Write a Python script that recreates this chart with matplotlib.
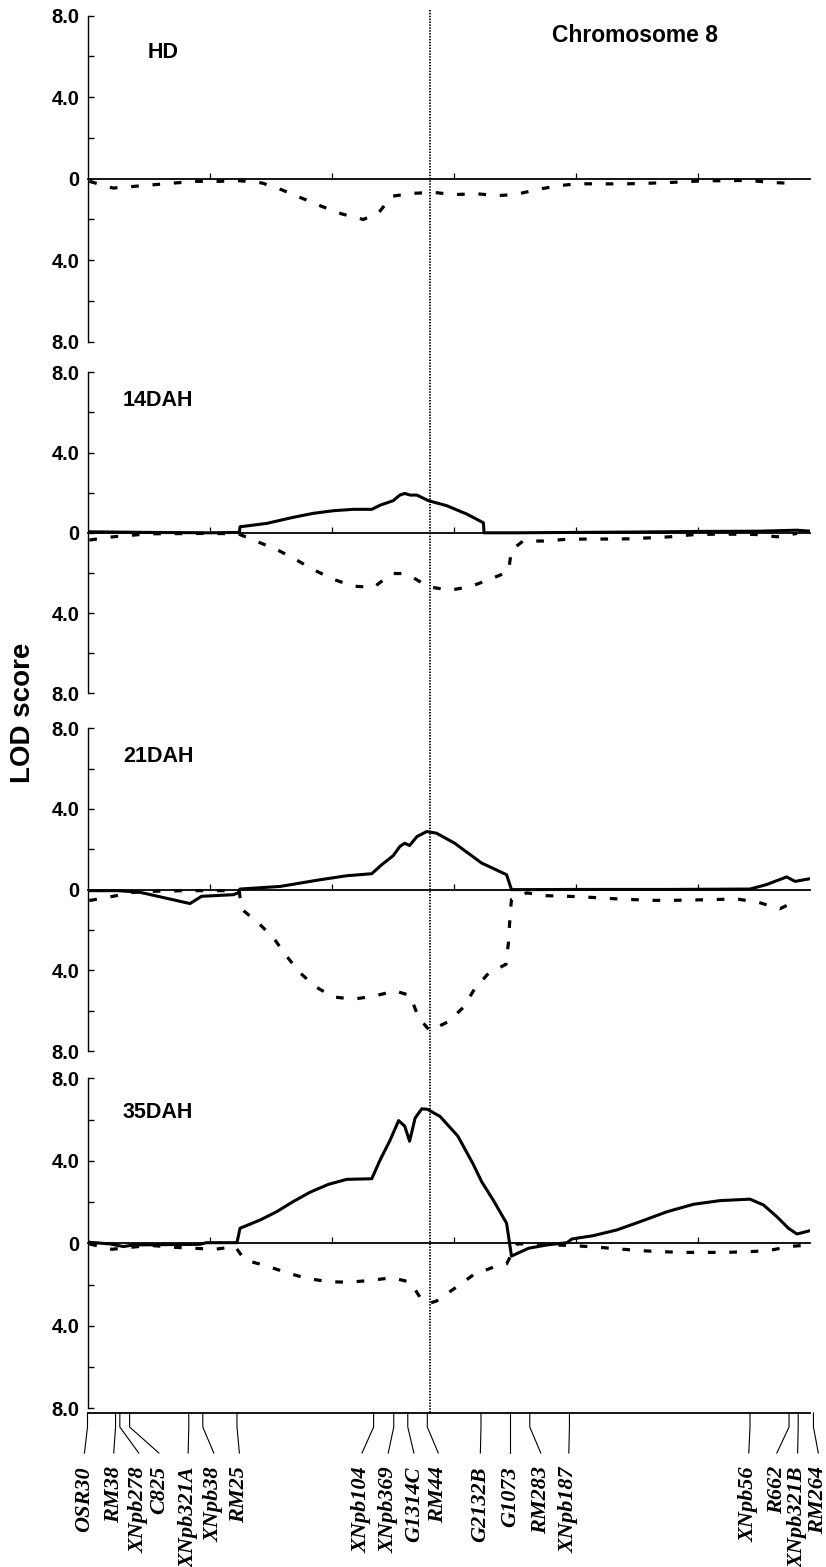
import matplotlib
matplotlib.use("Agg")
import matplotlib.pyplot as plt
from matplotlib import transforms
from matplotlib.lines import Line2D

# ---------------- data (cM, LOD; dashed trait plotted downward) ----------------
panel_names = ["HD", "14DAH", "21DAH", "35DAH"]

hd_dash_x = [0.3, 4.2, 7.5, 11.1, 14.3, 17.9, 21.4, 25.0, 28.6, 31.8, 35.1, 38.4, 41.7,
             45.2, 47.7, 49.9, 53.3, 56.7, 60.0, 63.8, 67.1, 70.1, 73.6, 77.2, 80.5, 84.0,
             87.3, 91.1, 94.4, 98.0, 101.2, 105.0, 108.3, 111.9, 115.4, 116.3]
hd_dash_y = [-0.13, -0.46, -0.38, -0.29, -0.21, -0.13, -0.13, -0.10, -0.21, -0.54, -0.95,
             -1.36, -1.73, -2.00, -1.68, -0.86, -0.72, -0.67, -0.78, -0.74, -0.83, -0.78,
             -0.54, -0.34, -0.25, -0.25, -0.26, -0.23, -0.20, -0.15, -0.10, -0.10, -0.08,
             -0.18, -0.23, -0.10]

d14_solid_x = [0.3, 10, 20, 24.9, 25.0, 29.4, 33.7, 37.0, 40.3, 43.6, 46.6, 48.0, 50.1, 51.2,
               52.0, 52.9, 54.0, 55.9, 58.9, 62.2, 64.9, 65.0, 70.4, 80, 90, 101.5, 110,
               116.3, 118.5]
d14_solid_y = [0.05, 0.02, 0.0, 0.02, 0.30, 0.47, 0.77, 0.97, 1.10, 1.17, 1.17, 1.38, 1.60,
               1.88, 1.96, 1.88, 1.88, 1.60, 1.35, 0.93, 0.50, 0.0, 0.0, 0.02, 0.04, 0.07,
               0.08, 0.13, 0.08]
d14_dash_x = [0.3, 4.2, 10, 20, 24.7, 27.5, 31.0, 34.0, 37.0, 40.3, 43.6, 46.9, 49.9, 51.8,
              53.2, 55.9, 59.4, 62.7, 66.0, 69.0, 69.5, 71.4, 74.7, 78.3, 81.8, 85.4, 88.7,
              92.2, 95.5, 99.0, 102.6, 106.1, 109.4, 113.0, 116.3]
d14_dash_y = [-0.36, -0.20, -0.05, -0.03, -0.05, -0.40, -0.83, -1.31, -1.83, -2.32, -2.66,
              -2.72, -2.03, -2.03, -2.20, -2.69, -2.86, -2.69, -2.31, -1.94, -0.86, -0.41,
              -0.41, -0.33, -0.31, -0.31, -0.30, -0.25, -0.20, -0.10, -0.07, -0.07, -0.08,
              -0.20, -0.03]

d21_solid_x = [0.3, 5, 8.6, 16.8, 18.7, 23.9, 24.7, 25.0, 31.6, 38.1, 42.5, 46.6, 48.2, 50.1,
               51.2, 52.0, 52.8, 54.0, 55.6, 57.2, 60.2, 64.6, 68.7, 69.5, 80, 95, 108.6,
               111.3, 114.6, 116.0, 118.2]
d21_solid_y = [-0.05, -0.05, -0.13, -0.69, -0.33, -0.25, -0.16, 0.03, 0.16, 0.49, 0.69, 0.79,
               1.23, 1.68, 2.14, 2.30, 2.19, 2.63, 2.88, 2.80, 2.30, 1.32, 0.74, 0.0, 0.01,
               0.01, 0.03, 0.25, 0.63, 0.41, 0.53]
d21_dash_x = [0.3, 4.2, 7.5, 10.8, 16.0, 22.5, 24.9, 25.2, 28.0, 30.5, 32.4, 34.8, 37.3, 40.3,
              43.6, 47.1, 50.4, 52.9, 54.2, 56.1, 59.1, 61.6, 63.5, 65.7, 68.6, 69.0, 69.3,
              69.5, 72.0, 75.3, 78.8, 82.4, 85.7, 89.2, 92.8, 96.1, 99.6, 103.1, 106.4, 110.0,
              113.5, 116.3]
d21_dash_y = [-0.54, -0.33, -0.13, -0.08, -0.05, -0.05, -0.10, -0.95, -1.65, -2.39, -3.21,
              -4.11, -4.80, -5.32, -5.43, -5.27, -5.02, -5.25, -6.30, -7.00, -6.55, -5.84,
              -4.90, -4.16, -3.70, -2.63, -1.15, -0.49, -0.16, -0.30, -0.33, -0.38, -0.44,
              -0.49, -0.53, -0.53, -0.51, -0.49, -0.46, -0.63, -0.95, -0.53]

d35_solid_x = [0.3, 3.7, 5.9, 7.5, 18.4, 19.5, 24.5, 25.0, 28.3, 31.0, 33.7, 36.5, 39.5, 42.5,
               46.6, 47.9, 49.6, 51.0, 52.0, 52.8, 53.7, 54.8, 55.7, 57.8, 60.7, 63.2, 64.6,
               66.5, 68.7, 69.5, 72.3, 75.3, 78.6, 79.4, 82.9, 86.8, 90.6, 95.0, 99.3, 103.7,
               108.6, 110.8, 113.0, 114.9, 116.3, 118.4]
d35_solid_y = [0.05, -0.03, -0.16, -0.08, -0.05, 0.03, 0.03, 0.73, 1.13, 1.53, 2.02, 2.48,
               2.86, 3.10, 3.13, 4.00, 5.00, 5.95, 5.68, 4.95, 6.07, 6.52, 6.50, 6.15, 5.20,
               3.85, 2.99, 2.10, 0.97, -0.62, -0.24, -0.08, 0.03, 0.21, 0.37, 0.65, 1.05,
               1.53, 1.89, 2.07, 2.14, 1.86, 1.29, 0.73, 0.45, 0.61]
d35_dash_x = [0.3, 4.0, 10.2, 14.1, 17.3, 20.9, 24.2, 25.8, 29.4, 32.7, 35.9, 39.5, 42.8, 46.3,
              49.9, 52.9, 54.8, 56.1, 57.2, 60.2, 63.2, 66.5, 68.7, 69.3, 70.4, 73.6, 76.9,
              80.5, 83.7, 87.3, 90.9, 94.4, 97.7, 101.2, 104.5, 108.1, 111.6, 114.9, 118.2]
d35_dash_y = [-0.03, -0.29, -0.10, -0.19, -0.24, -0.29, -0.16, -0.81, -1.10, -1.43, -1.70,
              -1.86, -1.89, -1.80, -1.67, -1.88, -2.75, -2.90, -2.80, -2.18, -1.54, -1.16,
              -1.00, -0.65, -0.03, -0.03, -0.08, -0.13, -0.19, -0.28, -0.36, -0.41, -0.44,
              -0.44, -0.44, -0.41, -0.36, -0.16, -0.08]

solid_series = [None, (d14_solid_x, d14_solid_y), (d21_solid_x, d21_solid_y),
                (d35_solid_x, d35_solid_y)]
dash_series = [(hd_dash_x, hd_dash_y), (d14_dash_x, d14_dash_y), (d21_dash_x, d21_dash_y),
               (d35_dash_x, d35_dash_y)]

markers = ["OSR30", "RM38", "XNpb278", "C825", "XNpb321A", "XNpb38", "RM25", "XNpb104",
           "XNpb369", "G1314C", "RM44", "G2132B", "G1073", "RM283", "XNpb187", "XNpb56",
           "R662", "XNpb321B", "RM264"]
marker_cm = [0.0, 4.6, 5.3, 6.9, 16.6, 18.9, 24.5, 46.9, 50.2, 52.5, 55.7, 64.5, 69.3, 72.5,
             79.0, 108.6, 115.0, 116.5, 119.0]
qtl_cm = 56.1

ytick_vals = [-8, -4, 0, 4, 8]
ytick_text = ["8.0", "4.0", "0", "4.0", "8.0"]

# ---------------- layout ----------------
W, H = 826, 1567
fig = plt.figure(figsize=(W / 100, H / 100), dpi=100)

label_cm = [-0.5, 4.3, 8.4, 11.7, 16.5, 20.7, 24.9, 45.0, 49.3, 53.5, 57.5, 64.4, 69.3,
            74.3, 78.9, 108.4, 113.0, 116.4, 119.8]

X_LEFT, X_RIGHT = 87.5, 810.4
XMAX = 118.5
left = X_LEFT / W
width = (X_RIGHT - X_LEFT) / W
panel_px = [(15.7, 341.7), (372.3, 693.3), (728.3, 1051.0), (1078.3, 1408.3)]
name_pos = [(148, 52), (123, 400), (123, 756), (123, 1113)]

SANS = ["Liberation Sans", "DejaVu Sans"]
axes = []
for i, (top, bot) in enumerate(panel_px):
    ax = fig.add_axes([left, 1 - bot / H, width, (bot - top) / H])
    ax.patch.set_visible(False)
    ax.set_xlim(0, XMAX)
    ax.set_ylim(-8, 8)
    for s in ["top", "right"]:
        ax.spines[s].set_visible(False)
    ax.spines["left"].set_linewidth(1.0)
    ax.spines["bottom"].set_position(("data", 0))
    ax.spines["bottom"].set_linewidth(1.3)
    ax.set_yticks(ytick_vals)
    ax.set_yticklabels(ytick_text)
    ax.set_yticks([-6, -2, 2, 6], minor=True)
    ax.set_xticks([20, 40, 60, 80, 100])
    ax.tick_params(axis="y", which="both", direction="in", length=4.2, width=1.0, pad=5.5)
    ax.tick_params(axis="x", which="both", direction="in", length=4.2, width=0.9,
                   labelbottom=False)
    for lab in ax.get_yticklabels():
        lab.set_fontfamily(SANS)
        lab.set_fontweight("bold")
        lab.set_fontsize(14.5)
    if solid_series[i] is not None:
        sx, sy = solid_series[i]
        ax.plot(sx, sy, color="black", lw=2.2, solid_joinstyle="round", zorder=3)
    dx, dy = dash_series[i]
    ax.plot(dx, dy, color="black", lw=2.3, dashes=(2.4, 4.3), zorder=3)
    fig.text(name_pos[i][0] / W, 1 - name_pos[i][1] / H, panel_names[i], ha="left",
             va="center", fontsize=15.5, fontweight="bold", family=SANS)
    axes.append(ax)

fig.text(635 / W, 1 - 35.5 / H, "Chromosome 8", ha="center", va="center", fontsize=16.5,
         fontweight="bold", family=SANS)
fig.text(23 / W, 1 - 713 / H, "LOD score", ha="center", va="center", rotation=90,
         fontsize=20, fontweight="bold", family=SANS)

# QTL dotted line through all panels
trans = transforms.blended_transform_factory(axes[0].transData, fig.transFigure)
fig.add_artist(Line2D([qtl_cm, qtl_cm], [1 - 10 / H, 1 - 1413 / H], transform=trans,
                      color="black", lw=1.3, linestyle=(0, (0.8, 0.8))))

# marker map axis
AX_Y = 1413
axm = fig.add_axes([left, 0, width, (H - AX_Y) / H])
axm.patch.set_visible(False)
axm.set_xlim(0, XMAX)
axm.set_ylim(H, AX_Y)
for s in ["bottom", "left", "right"]:
    axm.spines[s].set_visible(False)
axm.spines["top"].set_linewidth(1.3)
axm.set_xticks([])
axm.set_yticks([])
for m, lx, name in zip(marker_cm, label_cm, markers):
    axm.plot([m, m, lx], [AX_Y, AX_Y + 14, AX_Y + 40], color="black", lw=0.8,
             clip_on=False)
    axm.text(lx, AX_Y + 53, name, rotation=90, ha="center", va="top", fontsize=16,
             fontweight="bold", fontstyle="italic",
             family=["Liberation Serif", "DejaVu Serif"], clip_on=False)

fig.savefig("out.png", dpi=100)
